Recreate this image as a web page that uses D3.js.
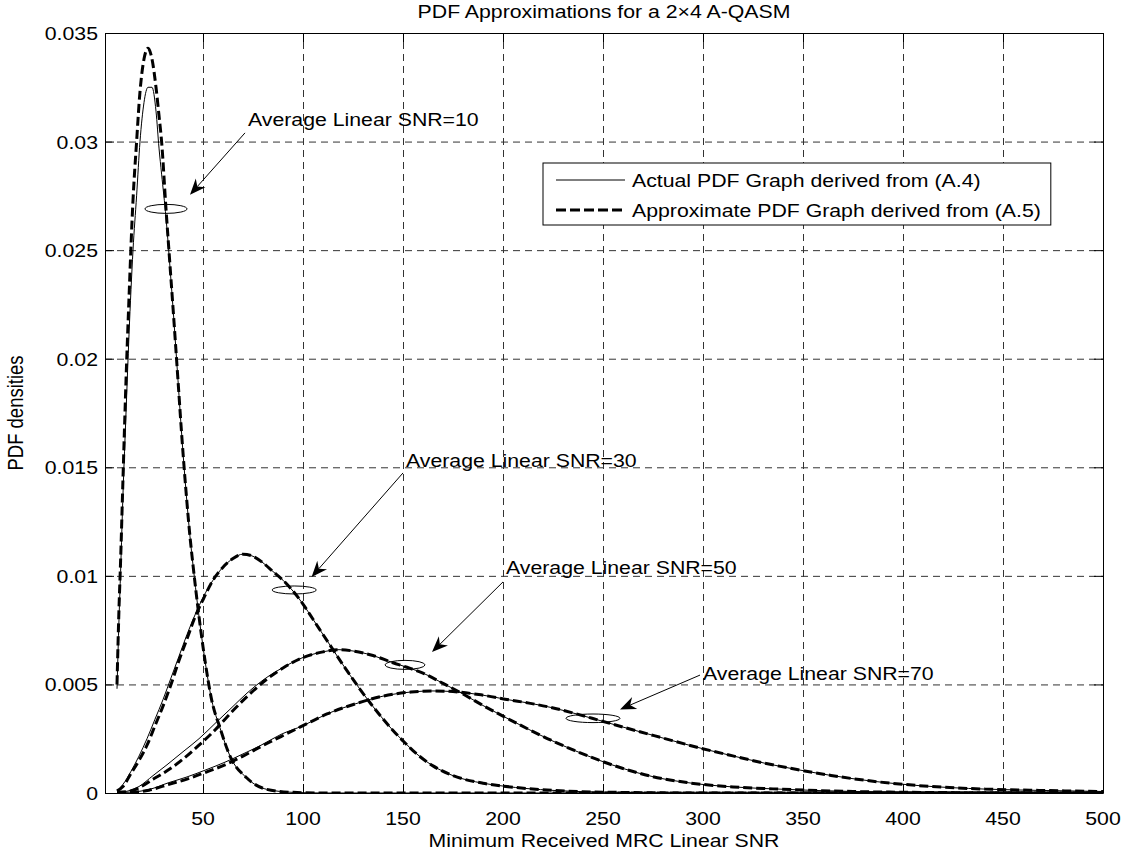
<!DOCTYPE html>
<html>
<head>
<meta charset="utf-8">
<script src="https://cdn.jsdelivr.net/npm/d3@7"></script>
<style>
body { margin: 0; background: #fff; }
svg text { font-family: "Liberation Sans", Arial, sans-serif; font-size: 18.5px; fill: #000; }
</style>
</head>
<body>
<div id="chart"></div>
<script>
// Data
var xTicks = [50, 100, 150, 200, 250, 300, 350, 400, 450, 500];
var yTicks = [0, 0.005, 0.01, 0.015, 0.02, 0.025, 0.03, 0.035];
var yTickLabels = ["0", "0.005", "0.01", "0.015", "0.02", "0.025", "0.03", "0.035"];

var snr10X = [7, 8, 8.8, 10, 11.5, 13, 15, 16.8, 18.5, 20.5, 22.5, 24.5, 26.5, 28, 29.3, 31.5, 33.5, 35.5, 37.5, 39.5,
    41.5, 43.5, 45, 47.5, 51, 54.3, 58.5, 63.5, 71.8, 81.8, 95, 110, 150, 250, 350, 500];
var snr10Actual = [0.0048, 0.0080, 0.0102, 0.0138, 0.0175, 0.0211, 0.0250, 0.0275, 0.0300, 0.0318, 0.0325, 0.0325, 0.0314, 0.0297, 0.0285, 0.0265, 0.0242, 0.0217, 0.0190, 0.0163,
    0.0139, 0.0118, 0.0105, 0.0085, 0.0061, 0.0043, 0.0030, 0.0017, 0.0007, 0.00017, 0.00003, 0, 0, 0, 0, 0];
var snr10Approx = [0.0050, 0.0085, 0.0107, 0.0145, 0.0190, 0.0228, 0.0273, 0.0300, 0.0323, 0.0338, 0.0343, 0.0338, 0.0325, 0.0312, 0.0300, 0.0269, 0.0243, 0.0217, 0.0190, 0.0163,
    0.0139, 0.0118, 0.0105, 0.0085, 0.0061, 0.0043, 0.0030, 0.0017, 0.0007, 0.00017, 0.00003, 0, 0, 0, 0, 0];

var snr30X = [7, 10, 14, 18, 22, 26, 30, 34, 38, 42, 46, 50, 55, 60, 65, 70, 75, 80, 85, 90,
    95, 100, 105, 110, 115, 120, 127, 134, 140, 145, 150, 155, 165, 175, 190, 200, 225, 250, 300, 400, 500];
var snr30Actual = [0.0001, 0.0004, 0.0010, 0.0017, 0.0025, 0.0034, 0.0043, 0.0053, 0.0063, 0.0073, 0.0082, 0.0090, 0.0098, 0.0104, 0.0108, 0.0110, 0.0109, 0.0106, 0.0102, 0.0098,
    0.0093, 0.0087, 0.0080, 0.0073, 0.0066, 0.0059, 0.00497, 0.0041, 0.00341, 0.00288, 0.0024, 0.00195, 0.00125, 0.0008, 0.00045, 0.00032, 0.00012, 0.00004, 0, 0, 0];
var snr30Approx = [0.0001, 0.0003, 0.0009, 0.0015, 0.0022, 0.0031, 0.0040, 0.0050, 0.0061, 0.0071, 0.0081, 0.0089, 0.0098, 0.0104, 0.0108, 0.0110, 0.0109, 0.0106, 0.0102, 0.0098,
    0.0093, 0.0087, 0.0080, 0.0073, 0.0066, 0.0059, 0.00497, 0.0041, 0.00341, 0.00288, 0.0024, 0.00195, 0.00125, 0.0008, 0.00045, 0.00032, 0.00012, 0.00004, 0, 0, 0];

var snr50X = [7, 12, 18, 25, 32, 40, 48, 56, 64, 72, 80, 90, 100, 110, 118, 125, 135, 145, 152, 160,
    170, 180, 190, 200, 212, 224, 236, 248, 260, 275, 292, 315, 335, 375, 420, 500];
var snr50Actual = [0.00003, 0.00008, 0.0003, 0.0008, 0.0013, 0.0019, 0.0025, 0.0032, 0.0039, 0.0046, 0.0052, 0.00578, 0.00624, 0.0065, 0.0066, 0.00654, 0.00633, 0.0060, 0.00579, 0.00552,
    0.00505, 0.00456, 0.00403, 0.00354, 0.00297, 0.00243, 0.00195, 0.00151, 0.00113, 0.00075, 0.00048, 0.00028, 0.00019, 0.00007, 0.00002, 0];
var snr50Approx = [0.00003, 0.00006, 0.00024, 0.00063, 0.00102, 0.00156, 0.0022, 0.0029, 0.0037, 0.00444, 0.0051, 0.00576, 0.00624, 0.0065, 0.0066, 0.00654, 0.00633, 0.0060, 0.00579, 0.00552,
    0.00505, 0.00456, 0.00403, 0.00354, 0.00297, 0.00243, 0.00195, 0.00151, 0.00113, 0.00075, 0.00048, 0.00028, 0.00019, 0.00007, 0.00002, 0];

var snr70X = [7, 14, 23, 33, 42, 51, 61, 70, 79, 89, 100, 112, 126, 140, 154, 165, 175, 189, 203, 213,
    224, 236, 248, 261, 280, 296, 313, 331, 347, 364, 385, 408, 441, 468, 500];
var snr70Actual = [0.00002, 0.00004, 0.00016, 0.00048, 0.00074, 0.00105, 0.00142, 0.0018, 0.0022, 0.0027, 0.0031, 0.00364, 0.0041, 0.00446, 0.00465, 0.0047, 0.00467, 0.00452, 0.00429, 0.00414,
    0.00394, 0.00366, 0.00335, 0.00301, 0.00253, 0.00213, 0.00175, 0.00137, 0.00108, 0.00081, 0.00054, 0.00034, 0.00018, 0.00012, 0.00007];
var snr70Approx = [0.00002, 0.00003, 0.00013, 0.0004, 0.00064, 0.00094, 0.0013, 0.0017, 0.00214, 0.0026, 0.0031, 0.00364, 0.0041, 0.00446, 0.00465, 0.0047, 0.00467, 0.00452, 0.00429, 0.00414,
    0.00394, 0.00366, 0.00335, 0.00301, 0.00253, 0.00213, 0.00175, 0.00137, 0.00108, 0.00081, 0.00054, 0.00034, 0.00018, 0.00012, 0.00007];

var legendLabels = ["Actual PDF Graph derived from (A.4)", "Approximate PDF Graph derived from (A.5)"];

// annotations, in data units
var annotLabels = ["Average Linear SNR=10", "Average Linear SNR=30", "Average Linear SNR=50", "Average Linear SNR=70"];
var annotTextX = [72.5, 151.5, 201.5, 300];
var annotTextY = [0.0307, 0.0150, 0.0101, 0.0052];
var arrowTailX = [71, 150, 200, 298.5];
var arrowTailY = [0.0304, 0.01474, 0.00972, 0.00543];
var arrowTipX = [43.5, 104.3, 164.5, 258.5];
var arrowTipY = [0.02755, 0.00995, 0.00649, 0.00385];
var ellipseX = [31.5, 95.6, 151, 245];
var ellipseY = [0.0269, 0.00935, 0.0059, 0.00344];

var svgWidth = 1133;
var svgHeight = 850;
var margin = {top: 33, right: 30, bottom: 57, left: 105};
var width = svgWidth - margin.left - margin.right;
var height = svgHeight - margin.top - margin.bottom;
var stretch = 1.15; // text in the picture is a bit wider than Arial

var svg = d3.select("#chart")
    .append("svg")
    .attr("width", svgWidth)
    .attr("height", svgHeight);

var chartGroup = svg.append("g")
    .attr("transform", `translate(${margin.left}, ${margin.top})`);

var xScale = d3.scaleLinear().domain([1, 500]).range([0, width]);
var yScale = d3.scaleLinear().domain([0, 0.035]).range([height, 0]);

function addText(parent, x, y, str, anchor, rotate) {
    var g = parent.append("g")
        .attr("transform", `translate(${x}, ${y}) scale(${stretch}, 1)` + (rotate ? " rotate(-90)" : ""));
    return g.append("text").attr("text-anchor", anchor).text(str);
}

// grid
chartGroup.append("g")
    .attr("class", "grid")
    .attr("transform", `translate(0, ${height})`)
    .call(d3.axisBottom(xScale).tickValues(xTicks).tickSize(-height).tickFormat(""));
chartGroup.append("g")
    .attr("class", "grid")
    .call(d3.axisLeft(yScale).tickValues(yTicks).tickSize(-width).tickFormat(""));
chartGroup.selectAll(".grid .domain").remove();
chartGroup.selectAll(".grid line")
    .attr("stroke", "#333")
    .attr("stroke-dasharray", "7,5");

// axes with inward ticks on all four sides
var tickLen = 9;
chartGroup.append("g").attr("transform", `translate(0, ${height})`)
    .call(d3.axisBottom(xScale).tickValues(xTicks).tickSizeInner(-tickLen).tickSizeOuter(0).tickFormat(""));
chartGroup.append("g")
    .call(d3.axisTop(xScale).tickValues(xTicks).tickSizeInner(-tickLen).tickSizeOuter(0).tickFormat(""));
chartGroup.append("g")
    .call(d3.axisLeft(yScale).tickValues(yTicks).tickSizeInner(-tickLen).tickSizeOuter(0).tickFormat(""));
chartGroup.append("g").attr("transform", `translate(${width}, 0)`)
    .call(d3.axisRight(yScale).tickValues(yTicks).tickSizeInner(-tickLen).tickSizeOuter(0).tickFormat(""));
chartGroup.selectAll(".domain").attr("stroke", "#000");

// tick labels
xTicks.forEach(function (t) {
    addText(chartGroup, xScale(t), height + 32, String(t), "middle");
});
yTicks.forEach(function (t, i) {
    addText(chartGroup, -7, yScale(t) + 7, yTickLabels[i], "end");
});

// titles
addText(chartGroup, width / 2, -15, "PDF Approximations for a 2\u00d74 A-QASM", "middle");
addText(chartGroup, width / 2, height + 54, "Minimum Received MRC Linear SNR", "middle");
addText(svg, 23, margin.top + height / 2, "PDF densities", "middle", true);

// curves
chartGroup.append("clipPath").attr("id", "plotClip")
    .append("rect").attr("width", width).attr("height", height + 2).attr("y", -1);

var line = d3.line()
    .x(d => xScale(d[0]))
    .y(d => yScale(d[1]))
    .curve(d3.curveMonotoneX);

var curves = [
    [snr10X, snr10Actual, snr10Approx],
    [snr30X, snr30Actual, snr30Approx],
    [snr50X, snr50Actual, snr50Approx],
    [snr70X, snr70Actual, snr70Approx]
];

var curveGroup = chartGroup.append("g").attr("clip-path", "url(#plotClip)");
curves.forEach(function (c) {
    curveGroup.append("path")
        .datum(c[0].map((x, i) => [x, c[1][i]]))
        .attr("d", line)
        .attr("fill", "none")
        .attr("stroke", "#000")
        .attr("stroke-width", 1);
});
curves.forEach(function (c) {
    curveGroup.append("path")
        .datum(c[0].map((x, i) => [x, c[2][i]]))
        .attr("d", line)
        .attr("fill", "none")
        .attr("stroke", "#000")
        .attr("stroke-width", 3)
        .attr("stroke-dasharray", "9,4");
});

// annotations: ellipse, arrow, text
var ellipseRx = [21, 22, 20, 27];
var ellipseRy = [4.5, 4, 4.5, 4.3];
annotLabels.forEach(function (label, i) {
    chartGroup.append("ellipse")
        .attr("cx", xScale(ellipseX[i]))
        .attr("cy", yScale(ellipseY[i]))
        .attr("rx", ellipseRx[i])
        .attr("ry", ellipseRy[i])
        .attr("fill", "none")
        .attr("stroke", "#000")
        .attr("stroke-width", 1);

    var x0 = xScale(arrowTailX[i]), y0 = yScale(arrowTailY[i]);
    var x1 = xScale(arrowTipX[i]), y1 = yScale(arrowTipY[i]);
    var len = Math.hypot(x1 - x0, y1 - y0);
    var ux = (x1 - x0) / len, uy = (y1 - y0) / len;
    var nx = -uy, ny = ux;
    var L = 16, W = 6.5, N = 11;
    chartGroup.append("line")
        .attr("x1", x0).attr("y1", y0)
        .attr("x2", x1 - ux * N).attr("y2", y1 - uy * N)
        .attr("stroke", "#000")
        .attr("stroke-width", 1);
    var pts = [
        [x1, y1],
        [x1 - ux * L + nx * W, y1 - uy * L + ny * W],
        [x1 - ux * N, y1 - uy * N],
        [x1 - ux * L - nx * W, y1 - uy * L - ny * W]
    ];
    chartGroup.append("path")
        .attr("d", "M" + pts.map(p => p.join(",")).join("L") + "Z")
        .attr("fill", "#000");

    addText(chartGroup, xScale(annotTextX[i]), yScale(annotTextY[i]), label, "start");
});

// legend
var legendX = 543 - margin.left;
var legendY = 163 - margin.top;
var legendGroup = chartGroup.append("g");
var legendBox = legendGroup.append("rect")
    .attr("x", legendX)
    .attr("y", legendY)
    .attr("height", 62)
    .attr("fill", "#fff")
    .attr("stroke", "#000")
    .attr("stroke-width", 1);

var maxLen = 0;
legendLabels.forEach(function (label, i) {
    var cy = legendY + 17 + i * 30;
    legendGroup.append("line")
        .attr("x1", legendX + 13).attr("x2", legendX + 82)
        .attr("y1", cy).attr("y2", cy)
        .attr("stroke", "#000")
        .attr("stroke-width", i === 0 ? 1 : 3)
        .attr("stroke-dasharray", i === 0 ? null : "10,4");
    var t = addText(legendGroup, legendX + 89, cy + 6.5, label, "start");
    maxLen = Math.max(maxLen, t.node().getComputedTextLength() * stretch);
});
legendBox.attr("width", 89 + maxLen + 10);
</script>
</body>
</html>
